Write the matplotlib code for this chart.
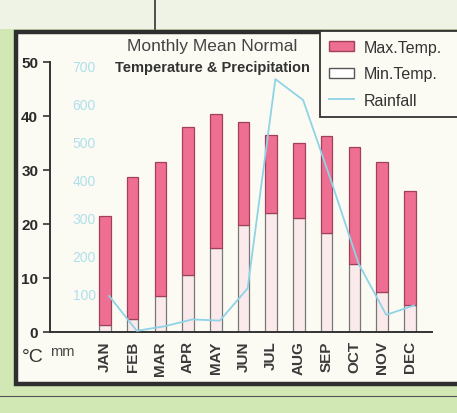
import numpy as np
import matplotlib.pyplot as plt
from matplotlib.patches import Rectangle, Patch
from matplotlib.lines import Line2D

months = ['JAN', 'FEB', 'MAR', 'APR', 'MAY', 'JUN', 'JUL', 'AUG', 'SEP', 'OCT', 'NOV', 'DEC']
max_temp = [21.5, 28.7, 31.5, 38.0, 40.4, 38.9, 36.5, 35.0, 36.3, 34.3, 31.5, 26.1]
min_temp = [1.3, 2.4, 6.7, 10.5, 15.5, 19.8, 22.0, 21.1, 18.3, 12.6, 7.4, 5.0]
rainfall = [95, 3, 15, 33, 30, 115, 665, 610, 400, 180, 45, 70]
temp_ticks = [0, 10, 20, 30, 40, 50]
rain_ticks = [100, 200, 300, 400, 500, 600, 700]

plt.rcParams['font.family'] = ['Liberation Sans', 'DejaVu Sans']

pink = '#ee6f92'
cyan = '#8fd3e6'

fig = plt.figure(figsize=(4.57, 4.14), dpi=100)
fig.patch.set_facecolor('#d2e8b4')
W, H = 457, 414

# light strip along the top
fig.patches.append(Rectangle((0, 1 - 30 / H), 1, 30 / H, transform=fig.transFigure,
                             facecolor='#eef3e6', edgecolor='none', zorder=0))
fig.add_artist(Line2D([155 / W, 155 / W], [1, 1 - 30 / H], color='#333333', lw=1.2))
fig.add_artist(Line2D([0, 1], [1 - 397 / H, 1 - 397 / H], color='#555555', lw=0.8))

# framed panel
fig.patches.append(Rectangle((16 / W, 1 - 385 / H), 460 / W, 352 / H, transform=fig.transFigure,
                             facecolor='#fcfbf3', edgecolor='#2e2e2e', lw=3.2, zorder=1))

ax = fig.add_axes([50 / W, 1 - 333 / H, 382 / W, 270 / H])
ax.set_facecolor('none')
ax.set_zorder(3)
x = np.arange(len(months))
w = 0.42

ax.bar(x, min_temp, w, color='#fbeaec', edgecolor='#777777', lw=0.9)
ax.bar(x, np.array(max_temp) - np.array(min_temp), w, bottom=min_temp,
       color=pink, edgecolor='#a0405a', lw=0.9)

ax.set_xlim(-1.98, 11.8)
ax.set_ylim(0, 50)
ax.set_yticks(temp_ticks)
ax.set_yticklabels([str(t) for t in temp_ticks], fontsize=11, fontweight='bold', color='#2a2a2a')
ax.set_xticks(x)
ax.set_xticklabels(months, rotation=90, fontsize=11, fontweight='bold', color='#3a3a3a')
ax.tick_params(axis='y', length=5, width=1.2, color='#333333')
ax.tick_params(axis='x', length=0, pad=6)
for s in ['top', 'right']:
    ax.spines[s].set_visible(False)
ax.spines['left'].set_linewidth(1.4)
ax.spines['bottom'].set_linewidth(1.4)
ax.spines['left'].set_color('#333333')
ax.spines['bottom'].set_color('#333333')

ax2 = ax.twinx()
ax2.plot(x + 0.15, rainfall, color=cyan, lw=1.3)
ax2.set_ylim(0, 700 * 50 / 49.3)
ax2.set_yticks(rain_ticks)
ax2.set_yticklabels([str(t) for t in rain_ticks], fontsize=10, color='#b0dfee')
ax2.yaxis.set_ticks_position('left')
ax2.tick_params(axis='y', length=0, pad=-33)
for s in ax2.spines.values():
    s.set_visible(False)

fig.text(212 / W, 1 - 47 / H, 'Monthly Mean Normal', fontsize=12.5, color='#444444',
         ha='center', va='center', zorder=5)
fig.text(212 / W, 1 - 68 / H, 'Temperature & Precipitation', fontsize=10.5, color='#333333',
         fontweight='bold', ha='center', va='center', zorder=5)
fig.text(62 / W, 1 - 352 / H, 'mm', fontsize=10.5, color='#444444', ha='center', va='center')
fig.text(33 / W, 1 - 357 / H, '°C', fontsize=14, color='#333333', ha='center', va='center')

handles = [Patch(facecolor=pink, edgecolor='#a0405a'),
           Patch(facecolor='white', edgecolor='#555555'),
           Line2D([], [], color=cyan, lw=1.3)]
leg = ax.legend(handles, ['Max.Temp.', 'Min.Temp.', 'Rainfall'],
                bbox_to_anchor=(320 / W, 1 - 113 / H, 145 / W, 81 / H),
                bbox_transform=fig.transFigure, loc='upper left', mode='expand',
                borderaxespad=0, fontsize=11.5, frameon=True, fancybox=False,
                handlelength=1.6, handleheight=0.6, labelspacing=0.72, borderpad=0.55,
                handletextpad=0.6)
leg.get_frame().set_edgecolor('#333333')
leg.get_frame().set_linewidth(1.3)
leg.get_frame().set_facecolor('#fcfbf3')
leg.get_frame().set_alpha(1)
for t in leg.get_texts():
    t.set_color('#333333')

fig.savefig('out.png', dpi=100, facecolor=fig.get_facecolor())
